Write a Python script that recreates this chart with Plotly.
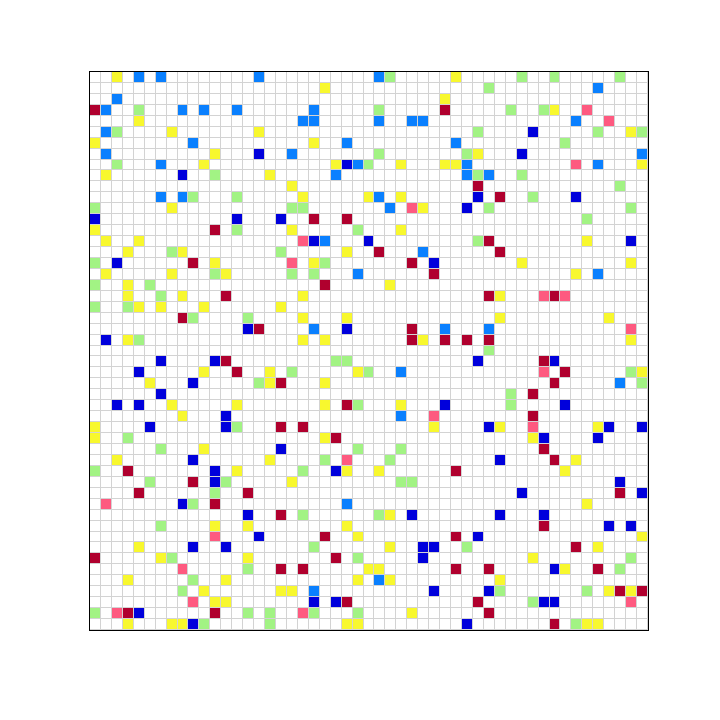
import plotly.graph_objects as go

N_ROWS = 51
N_COLS = 51

# category codes used in the grid
CODES = [".", "Y", "G", "B", "D", "R", "P"]
CATEGORY_NAMES = ["empty", "yellow", "light green", "blue", "dark blue", "crimson", "pink"]

# occupied cells per row (top row = 0): letter = category code, number = column index
ROW_CELLS = {
    0: "Y2 B4 B6 B15 B26 G27 Y33 G39 G42 G48",
    1: "Y21 G36 B46",
    2: "B2 Y32",
    3: "R0 B1 G4 B8 B10 B13 B20 G26 R32 G38 G41 Y42 P45",
    4: "Y4 B19 B20 B26 B29 B30 B44 P47",
    5: "B1 G2 Y7 Y15 G35 D40 G46 Y49 G50",
    6: "Y0 B9 Y20 B23 B33 G43",
    7: "B1 Y11 D15 B18 G26 G34 Y35 D39 B50",
    8: "G2 B6 Y10 Y22 D23 B24 G25 Y28 Y32 Y33 B34 P44 B46 Y50",
    9: "Y1 D8 G11 Y16 B22 B34 G35 B36 G39",
    10: "Y18 R35 G48",
    11: "B6 B8 G9 G13 Y19 Y25 B26 Y28 D35 R37 G40 D44",
    12: "G0 Y7 G18 G19 B27 P29 Y30 D34 G36 G49",
    13: "D0 D13 D17 R20 R23 G45",
    14: "Y0 R11 G13 Y18 G24 Y28",
    15: "Y1 Y4 P19 D20 B21 D25 G35 R36 Y45 D49",
    16: "Y3 G7 Y8 G17 Y23 R26 B30 R37",
    17: "G0 D2 R9 Y11 P18 Y20 G21 R29 D31 Y39 Y49",
    18: "Y1 Y7 G11 Y12 G18 G20 B24 R31 Y44 B46",
    19: "G0 Y3 G5 R21 Y27",
    20: "Y3 G6 Y8 R12 Y19 R36 Y37 P41 R42 P43",
    21: "G0 G3 Y4 Y6 Y10 Y17",
    22: "R8 G9 G14 Y19 Y23 Y37 Y47",
    23: "D14 R15 B20 D23 R29 B32 B36 P49",
    24: "D1 Y3 G4 Y19 Y21 R29 Y30 R32 R34 R36 Y49",
    25: "G36",
    26: "D6 D11 R12 G22 G23 D35 R41 D42",
    27: "D4 Y10 R13 Y16 G18 Y24 G25 B28 P41 R43 G49 Y50",
    28: "Y5 D9 G15 Y16 R17 Y21 R42 B48 G50",
    29: "D6 G38 R40",
    30: "D2 D4 Y7 Y13 Y21 R23 G24 Y28 D32 G38 D43",
    31: "Y8 D12 B28 P31 R40",
    32: "Y0 D5 D12 G13 R17 R19 Y31 D36 Y37 P40 Y46 D47 D50",
    33: "Y0 G3 Y21 R22 Y40 D41 D46",
    34: "G6 Y10 D17 G24 G28 R41",
    35: "Y2 D9 Y16 G21 P23 G27 D37 R42 Y44",
    36: "G0 R3 D11 Y13 G19 D22 Y23 Y26 R33 Y43",
    37: "G5 R9 D11 G12 Y18 G28 G29 D48",
    38: "R4 G11 R14 D39 R48 D50",
    39: "P1 D8 G9 R11 B23 Y45",
    40: "D14 R17 G19 G26 Y27 D29 D37 D41",
    41: "G6 Y11 Y14 Y23 R41 D47 D49",
    42: "P11 D15 R21 Y24 R33 D35 Y50",
    43: "Y4 D9 D12 G20 Y27 D30 D31 G34 R44 Y46",
    44: "R0 Y6 G7 Y14 R22 G24 D30 Y40 G49",
    45: "P8 G14 R17 R19 Y25 Y26 R33 R36 D42 Y43 R46 G48",
    46: "Y3 G9 Y12 Y24 B26 Y27 Y37",
    47: "G8 Y10 Y17 Y18 B20 D31 D36 G37 G45 Y47 R48 Y49 R50",
    48: "P9 Y11 Y12 D20 D22 R23 R35 G40 D41 D42 P49",
    49: "G0 P2 R3 D4 R11 G14 G16 P19 G20 G24 Y29 R36",
    50: "Y3 Y7 Y8 D9 G10 G16 Y23 Y24 D34 R42 G44 Y45 Y46",
}

# ---- build matrix from the data ----
z = [[0] * N_COLS for _ in range(N_ROWS)]
for r, s in ROW_CELLS.items():
    for tok in s.split():
        z[r][int(tok[1:])] = CODES.index(tok[0])

COLORS = ["#ffffff", "#f8f82e", "#a2f384", "#0a80ff", "#0000dc", "#b0002e", "#fe5a80"]
k = len(COLORS)
colorscale = []
for i, c in enumerate(COLORS):
    colorscale.append([i / k, c])
    colorscale.append([(i + 1) / k, c])

fig = go.Figure(
    go.Heatmap(
        z=z,
        x=list(range(N_COLS)),
        y=list(range(N_ROWS)),
        colorscale=colorscale,
        zmin=-0.5,
        zmax=k - 0.5,
        showscale=False,
        xgap=1,
        ygap=1,
        hoverinfo="skip",
    )
)

axis_common = dict(
    showticklabels=False,
    ticks="",
    showgrid=False,
    zeroline=False,
    showline=True,
    mirror=True,
    linecolor="black",
    linewidth=1,
)
fig.update_layout(
    width=720,
    height=720,
    margin=dict(l=90, r=72, t=72, b=90),
    plot_bgcolor="#d3d3d3",
    paper_bgcolor="white",
    xaxis=dict(range=[-0.5, N_COLS - 0.5], **axis_common),
    yaxis=dict(range=[N_ROWS - 0.5, -0.5], **axis_common),
)

fig.write_html("out.html")
